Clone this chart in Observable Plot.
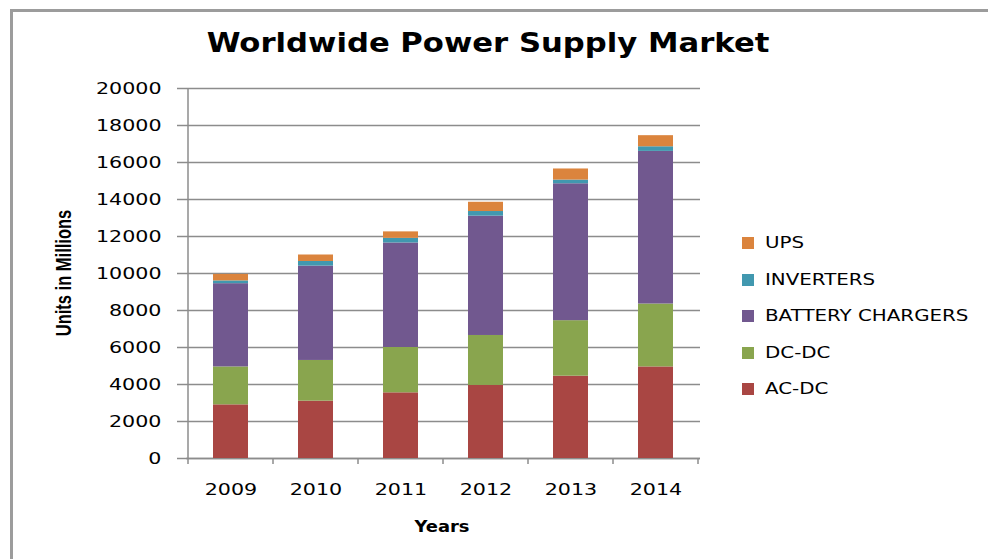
<!DOCTYPE html>
<html>
<head>
<meta charset="utf-8">
<script src="https://cdn.jsdelivr.net/npm/d3@7"></script>
<script src="https://cdn.jsdelivr.net/npm/@observablehq/plot@0.6"></script>
<style>
  html, body { margin: 0; background: #fff; overflow: hidden; }
  #wrap { position: relative; width: 988px; height: 559px; overflow: hidden; font-family: "DejaVu Sans", sans-serif; color: #000; }
  #frame { position: absolute; left: 10px; top: 9px; width: 978px; height: 550px; border-left: 3px solid #9c9c9c; border-top: 3px solid #9c9c9c; box-sizing: border-box; }
  #chart { position: absolute; left: 0; top: 0; }
  #title { position: absolute; left: 488px; top: 30px; font-size: 26px; line-height: 26px; font-weight: bold; white-space: nowrap; transform: translateX(-50%) scaleX(1.18); }
  #ylabel { position: absolute; left: 63.5px; top: 272.5px; font-family: "Liberation Sans Narrow", "Liberation Sans", sans-serif; font-weight: bold; font-size: 16.5px; line-height: 16.5px; white-space: nowrap; transform: translate(-50%, -50%) rotate(-90deg) scaleY(1.3); }
  #xlabel { position: absolute; left: 442px; top: 519px; font-size: 16px; line-height: 16px; font-weight: bold; white-space: nowrap; transform: translateX(-50%) scaleX(1.12); }
  #legend { position: absolute; left: 742px; top: 224.75px; }
  .row { height: 36.5px; display: flex; align-items: center; }
  .sw { width: 12px; height: 12px; margin-right: 11px; flex: none; }
  .lt { font-size: 16px; line-height: 16px; white-space: nowrap; transform: scaleX(1.24); transform-origin: left center; }
</style>
</head>
<body>
<div id="wrap">
  <div id="frame"></div>
  <div id="chart"></div>
  <div id="title">Worldwide Power Supply Market</div>
  <div id="ylabel">Units in Millions</div>
  <div id="xlabel">Years</div>
  <div id="legend"></div>
</div>
<script>
// ---- data ----
const years = ["2009", "2010", "2011", "2012", "2013", "2014"];
const series = ["AC-DC", "DC-DC", "BATTERY CHARGERS", "INVERTERS", "UPS"];
const acdc      = [2900, 3100, 3550, 3950, 4450, 4950];
const dcdc      = [2050, 2200, 2450, 2700, 3000, 3400];
const battery   = [4500, 5100, 5650, 6450, 7400, 8250];
const inverters = [150, 250, 250, 250, 200, 250];
const ups       = [350, 350, 350, 500, 600, 600];
const colors = ["#A94643", "#89A54E", "#71588F", "#4198AF", "#DB843D"];
const yTicks = [0, 2000, 4000, 6000, 8000, 10000, 12000, 14000, 16000, 18000, 20000];
const legendOrder = ["UPS", "INVERTERS", "BATTERY CHARGERS", "DC-DC", "AC-DC"];

const values = [acdc, dcdc, battery, inverters, ups];
const data = series.flatMap((s, i) => years.map((y, j) => ({year: y, series: s, value: values[i][j]})));

const gridColor = "#8c8c8c";

const plot = Plot.plot({
  width: 988,
  height: 559,
  marginTop: 88,
  marginBottom: 101,
  marginLeft: 186,
  marginRight: 288,
  style: {fontFamily: "DejaVu Sans, sans-serif", fontSize: "16px", color: "#000", background: "transparent", overflow: "visible"},
  x: {domain: years, paddingInner: 0.59, paddingOuter: 0.295, align: 0.5, label: null},
  y: {domain: [0, 20000], label: null},
  color: {domain: series, range: colors},
  marks: [
    Plot.gridY(yTicks, {stroke: gridColor, strokeOpacity: 1, strokeWidth: 1.5}),
    Plot.ruleY([0], {stroke: gridColor, strokeWidth: 1.5}),
    Plot.barY(data, {x: "year", y: "value", fill: "series"}),
    Plot.axisY(yTicks, {tickSize: 9, tickPadding: 16, stroke: gridColor, strokeWidth: 1.5, tickFormat: d => String(d), label: null, fill: "#000"}),
    Plot.axisX({tickSize: 0, tickPadding: 25, label: null, fill: "#000"})
  ]
});

// boundary ticks & y-axis line, computed from Plot's own scales
const xs = plot.scale("x"), ys = plot.scale("y");
const step = xs.step, bw = xs.bandwidth;
const bounds = years.map(y => xs.apply(y) - (step - bw) / 2);
bounds.push(xs.apply(years[years.length - 1]) + bw + (step - bw) / 2);
const y0 = ys.apply(0), yTop = ys.apply(20000);
const g = d3.select(plot).append("g").attr("stroke", gridColor).attr("stroke-width", 1.5);
g.append("line").attr("x1", bounds[0]).attr("x2", bounds[0]).attr("y1", yTop).attr("y2", y0);
g.selectAll("line.t").data(bounds).join("line").attr("class", "t")
  .attr("x1", d => d).attr("x2", d => d).attr("y1", y0).attr("y2", y0 + 6);

// widen tick label glyphs like the reference
d3.select(plot).selectAll('g[aria-label$="tick label"] text').each(function() {
  const t = this.getAttribute("transform") || "";
  this.setAttribute("transform", t + " scale(1.29,1)");
});

document.getElementById("chart").appendChild(plot);

// legend
const lg = d3.select("#legend");
legendOrder.forEach(name => {
  const row = lg.append("div").attr("class", "row");
  row.append("div").attr("class", "sw").style("background", colors[series.indexOf(name)]);
  row.append("div").attr("class", "lt").text(name);
});
</script>
</body>
</html>
